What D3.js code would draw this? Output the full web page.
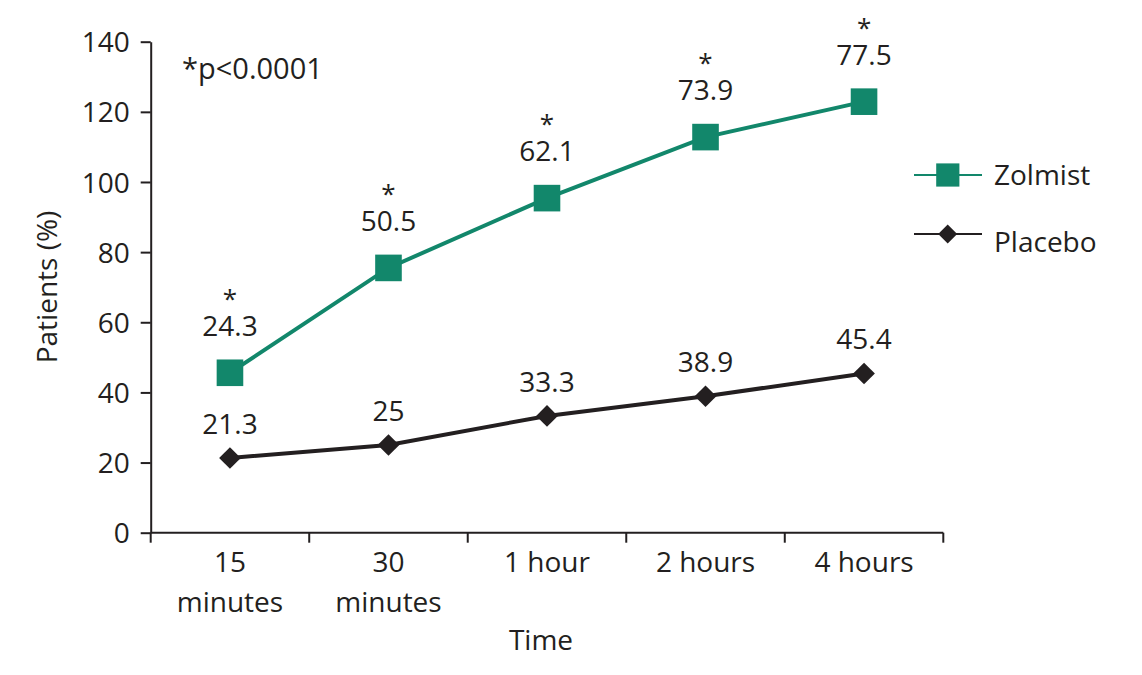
<!DOCTYPE html>
<html>
<head>
<meta charset="utf-8">
<script src="https://cdn.jsdelivr.net/npm/d3@7"></script>
<style>
    body { margin: 0; background: #fff; }
    text { font-family: "Open Sans", sans-serif; fill: #231f20; }
</style>
</head>
<body>
<svg id="chart" width="1142" height="675"></svg>
<script>
// データ
var categories = ["15 minutes", "30 minutes", "1 hour", "2 hours", "4 hours"];
var categoryLines = [["15", "minutes"], ["30", "minutes"], ["1 hour"], ["2 hours"], ["4 hours"]];
var zolmist = [24.3, 50.5, 62.1, 73.9, 77.5];
var placebo = [21.3, 25, 33.3, 38.9, 45.4];
var significant = [true, true, true, true, true];
var yTicks = [0, 20, 40, 60, 80, 100, 120, 140];
var seriesNames = ["Zolmist", "Placebo"];

var green = "#12876b";
var ink = "#231f20";

var svg = d3.select("#chart");

var x = d3.scaleBand().domain(categories).range([150.7, 943.3]).padding(0);
var y = d3.scaleLinear().domain([0, 140]).range([532.7, 41.7]);

// 積み上げ（Zolmist は Placebo の上に積む）
var rows = categories.map(function (c, i) {
    return { cat: c, placebo: placebo[i], zolmist: zolmist[i] };
});
var stacked = d3.stack().keys(["placebo", "zolmist"])(rows);

// Y軸
var yAxis = svg.append("g")
    .attr("transform", "translate(150.7,0)")
    .call(d3.axisLeft(y).tickValues(yTicks).tickSize(10).tickSizeOuter(0).tickPadding(11));
yAxis.select(".domain").attr("stroke", ink).attr("stroke-width", 2);
yAxis.selectAll(".tick line").attr("stroke", ink).attr("stroke-width", 2);
yAxis.selectAll(".tick text")
    .attr("dy", "0.36em")
    .style("font-size", "28px")
    .style("font-family", "Open Sans")
    .attr("fill", ink);

// X軸
var xAxis = svg.append("g").attr("transform", "translate(0," + y(0) + ")");
xAxis.append("line")
    .attr("x1", x.range()[0]).attr("x2", x.range()[1])
    .attr("stroke", ink).attr("stroke-width", 2);
var edges = categories.map(function (c) { return x(c); }).concat([x.range()[1]]);
xAxis.selectAll("line.edge").data(edges).enter().append("line")
    .attr("class", "edge")
    .attr("x1", function (d) { return d; }).attr("x2", function (d) { return d; })
    .attr("y1", 0).attr("y2", 10)
    .attr("stroke", ink).attr("stroke-width", 2);
xAxis.selectAll("text.cat").data(categories).enter().append("text")
    .attr("class", "cat")
    .attr("text-anchor", "middle")
    .style("font-size", "28px")
    .attr("transform", function (d) { return "translate(" + (x(d) + x.bandwidth() / 2) + ",39)"; })
    .each(function (d, i) {
        var t = d3.select(this);
        categoryLines[i].forEach(function (line, j) {
            t.append("tspan").attr("x", 0).attr("y", j * 40).text(line);
        });
    });

// 軸タイトル
svg.append("text")
    .attr("x", 541).attr("y", 650)
    .attr("text-anchor", "middle")
    .style("font-size", "28px")
    .text("Time");
svg.append("text")
    .attr("transform", "translate(57,287) rotate(-90)")
    .attr("text-anchor", "middle")
    .style("font-size", "28px")
    .text("Patients (%)");

svg.append("text")
    .attr("x", 182).attr("y", 79)
    .style("font-size", "29px")
    .text("*p<0.0001");

var cx = function (d) { return x(d.data.cat) + x.bandwidth() / 2; };

// 線
var line = d3.line().x(cx).y(function (d) { return y(d[1]); });
svg.append("path").datum(stacked[0])
    .attr("d", line).attr("fill", "none")
    .attr("stroke", ink).attr("stroke-width", 4);
svg.append("path").datum(stacked[1])
    .attr("d", line).attr("fill", "none")
    .attr("stroke", green).attr("stroke-width", 4);

// マーカー
var diamond = d3.symbol().type(d3.symbolDiamond2).size(300);
svg.selectAll("path.pb").data(stacked[0]).enter().append("path")
    .attr("class", "pb")
    .attr("d", diamond)
    .attr("transform", function (d) { return "translate(" + cx(d) + "," + y(d[1]) + ")"; })
    .attr("fill", ink);
svg.selectAll("rect.zm").data(stacked[1]).enter().append("rect")
    .attr("class", "zm")
    .attr("x", function (d) { return cx(d) - 13.3; })
    .attr("y", function (d) { return y(d[1]) - 13.3; })
    .attr("width", 26.6).attr("height", 26.6)
    .attr("fill", green);

// 値ラベル
svg.selectAll("text.pbv").data(stacked[0]).enter().append("text")
    .attr("class", "pbv")
    .attr("x", cx).attr("y", function (d) { return y(d[1]) - 24; })
    .attr("text-anchor", "middle")
    .style("font-size", "28px")
    .text(function (d, i) { return placebo[i]; });
// Zolmist は値の上にアスタリスク（有意差あり）を1つのテキストで重ねる
svg.selectAll("text.zmv").data(stacked[1]).enter().append("text")
    .attr("class", "zmv")
    .attr("text-anchor", "middle")
    .style("font-size", "28px")
    .each(function (d, i) {
        var t = d3.select(this);
        var base = y(d[1]) - 37;
        if (significant[i]) {
            t.append("tspan").attr("x", cx(d)).attr("y", base - 28)
                .style("font-size", "26px").text("*");
        }
        t.append("tspan").attr("x", cx(d)).attr("y", base).text(zolmist[i]);
    });

// 凡例
var legend = svg.append("g");
var legendY = [175, 234];
var legendText = [185, 252];
legend.selectAll("line").data(seriesNames).enter().append("line")
    .attr("x1", 914).attr("x2", 982)
    .attr("y1", function (d, i) { return legendY[i]; })
    .attr("y2", function (d, i) { return legendY[i]; })
    .attr("stroke", function (d, i) { return i == 0 ? green : ink; })
    .attr("stroke-width", 2);
legend.append("rect")
    .attr("x", 936.2).attr("y", legendY[0] - 11.6)
    .attr("width", 23.2).attr("height", 23.2)
    .attr("fill", green);
legend.append("path")
    .attr("d", d3.symbol().type(d3.symbolDiamond2).size(230))
    .attr("transform", "translate(947.7," + legendY[1] + ")")
    .attr("fill", ink);
legend.selectAll("text").data(seriesNames).enter().append("text")
    .attr("x", 994)
    .attr("y", function (d, i) { return legendText[i]; })
    .style("font-size", "28px")
    .text(function (d) { return d; });
</script>
</body>
</html>
